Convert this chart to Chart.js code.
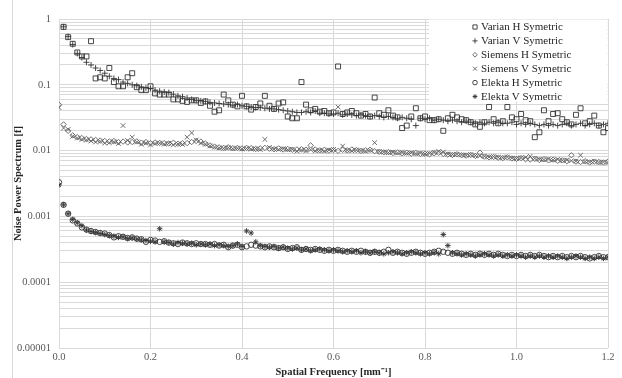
<!DOCTYPE html>
<html>
<head>
<meta charset="utf-8">
<script src="https://cdn.jsdelivr.net/npm/chart.js@4/dist/chart.umd.min.js"></script>
<style>
  html, body { margin: 0; padding: 0; background: #fff; }
  #wrap { position: relative; width: 622px; height: 378px; }
</style>
</head>
<body>
<div id="wrap"><canvas id="nps-chart" width="622" height="378"></canvas></div>
<script>
// spatial frequency grid, mm^-1 (0 .. 1.2)
const freqStep = 0.01;
const freqCount = 121;

const varianH = [null,
  0.76, 0.53, 0.42, 0.31, 0.27, 0.27, 0.46, 0.125, 0.13, 0.125,
  0.18, 0.11, 0.095, 0.095, 0.13, 0.15, 0.092, 0.083, 0.083, 0.095,
  0.074, 0.071, 0.071, 0.071, 0.06, 0.06, 0.057, 0.055, 0.058, 0.058,
  0.053, 0.056, 0.048, 0.039, 0.041, 0.071, 0.058, 0.05, 0.047, 0.068,
  0.047, 0.042, 0.046, 0.052, 0.068, 0.048, 0.043, 0.052, 0.054, 0.033,
  0.031, 0.031, 0.11, 0.05, 0.041, 0.043, 0.039, 0.04, 0.037, 0.038,
  0.19, 0.036, 0.038, 0.04, 0.037, 0.034, 0.036, 0.033, 0.064, 0.037,
  0.035, 0.041, 0.034, 0.032, 0.022, 0.024, 0.033, 0.044, 0.031, 0.033,
  0.029, 0.029, 0.03, 0.02, 0.031, 0.035, 0.032, 0.03, 0.029, 0.027,
  0.025, 0.023, 0.027, 0.046, 0.03, 0.026, 0.028, 0.046, 0.032, 0.03,
  0.036, 0.029, 0.028, 0.016, 0.019, 0.041, 0.028, 0.036, 0.037, 0.03,
  0.027, 0.025, 0.035, 0.044, 0.026, 0.028, 0.034, 0.024, 0.019, 0.022];

const varianV = [null,
  0.76, 0.54, 0.41, 0.3, 0.26, 0.22, 0.2, 0.18, 0.165, 0.15,
  0.135, 0.125, 0.12, 0.11, 0.105, 0.1, 0.097, 0.093, 0.09, 0.088,
  0.083, 0.08, 0.078, 0.076, 0.072, 0.068, 0.066, 0.063, 0.06, 0.058,
  0.057, 0.056, 0.054, 0.053, 0.052, 0.051, 0.05, 0.049, 0.05, 0.048,
  0.047, 0.046, 0.045, 0.045, 0.044, 0.043, 0.043, 0.042, 0.041, 0.04,
  0.039, 0.038, 0.038, 0.039, 0.038, 0.04, 0.037, 0.037, 0.036, 0.036,
  0.037, 0.035, 0.036, 0.035, 0.034, 0.035, 0.034, 0.033, 0.034, 0.033,
  0.032, 0.033, 0.032, 0.031, 0.032, 0.031, 0.03, 0.024, 0.031, 0.03,
  0.031, 0.029, 0.03, 0.029, 0.028, 0.029, 0.028, 0.027, 0.028, 0.027,
  0.026, 0.027, 0.026, 0.027, 0.026, 0.027, 0.026, 0.026, 0.027, 0.025,
  0.026, 0.025, 0.026, 0.025, 0.024, 0.025, 0.024, 0.025, 0.024, 0.025,
  0.026, 0.024, 0.025, 0.026, 0.024, 0.025, 0.026, 0.024, 0.025, 0.026];

const siemensH = [0.05,
  0.025, 0.02, 0.017, 0.016, 0.0155, 0.015, 0.0148, 0.0145, 0.0142, 0.014,
  0.0138, 0.014, 0.0135, 0.0137, 0.0133, 0.0135, 0.0138, 0.0132, 0.0135, 0.013,
  0.0133, 0.0131, 0.013, 0.0128, 0.0132, 0.0127, 0.0129, 0.013, 0.0135, 0.014,
  0.0137, 0.0128, 0.012, 0.0115, 0.0112, 0.011, 0.0112, 0.0109, 0.011, 0.0108,
  0.011, 0.0109, 0.0106, 0.0108, 0.011, 0.0107, 0.0105, 0.0108, 0.0104, 0.0106,
  0.0103, 0.0104, 0.0105, 0.0103, 0.012, 0.0104, 0.0101, 0.0103, 0.01, 0.0102,
  0.0099, 0.0103, 0.0101, 0.0104, 0.0102, 0.0099, 0.0101, 0.0103, 0.0098, 0.0096,
  0.0094, 0.0095, 0.0092, 0.0094, 0.0091, 0.0093, 0.009, 0.0092, 0.0089, 0.009,
  0.0088, 0.0091, 0.0093, 0.0089, 0.0087, 0.0086, 0.0088, 0.0085, 0.0084, 0.0086,
  0.0083, 0.0093, 0.0081, 0.0079, 0.008, 0.0078, 0.0077, 0.0079, 0.0076, 0.0075,
  0.0077, 0.0074, 0.0073, 0.0075, 0.0072, 0.0074, 0.0071, 0.0073, 0.007, 0.0071,
  0.0069, 0.0085, 0.0068, 0.0067, 0.0069, 0.0066, 0.0068, 0.0067, 0.0066, 0.0068];

const siemensV = [0.045,
  0.022, 0.021, 0.0165, 0.0155, 0.0148, 0.0145, 0.014, 0.0135, 0.0138, 0.013,
  0.0132, 0.0136, 0.0128, 0.024, 0.0142, 0.016, 0.0135, 0.0125, 0.013, 0.0122,
  0.0128, 0.013, 0.0125, 0.0129, 0.0122, 0.0126, 0.0124, 0.016, 0.0186, 0.0145,
  0.013, 0.0125, 0.0118, 0.0113, 0.011, 0.0108, 0.0111, 0.0107, 0.0109, 0.0106,
  0.0108, 0.0105, 0.0107, 0.0104, 0.0148, 0.0112, 0.0106, 0.0104, 0.0107, 0.0103,
  0.0105, 0.0098, 0.0102, 0.01, 0.0103, 0.0099, 0.0101, 0.0098, 0.0102, 0.0104,
  0.046, 0.0117, 0.0101, 0.0099, 0.0102, 0.01, 0.0098, 0.0101, 0.0132, 0.0097,
  0.0095, 0.0093, 0.0095, 0.0092, 0.0094, 0.0091, 0.0093, 0.009, 0.0092, 0.0089,
  0.0091, 0.0094, 0.0097, 0.0095, 0.0089, 0.0087, 0.0088, 0.0086, 0.0085, 0.0087,
  0.0084, 0.0083, 0.0082, 0.008, 0.0081, 0.0079, 0.0078, 0.008, 0.0077, 0.0076,
  0.0078, 0.0079, 0.0082, 0.0076, 0.0074, 0.0073, 0.0075, 0.0072, 0.0074, 0.0071,
  0.0072, 0.007, 0.0069, 0.0085, 0.0068, 0.0067, 0.0069, 0.0066, 0.0067, 0.0066];

const elektaH = [0.0033,
  0.0015, 0.0011, 0.00087, 0.00078, 0.00068, 0.00063, 0.0006, 0.00058, 0.00056, 0.00055,
  0.00052, 0.00048, 0.0005, 0.00049, 0.00047, 0.00048, 0.00046, 0.00045, 0.00041, 0.00044,
  0.00043, 0.00041, 0.00042, 0.0004, 0.00039, 0.00038, 0.0004, 0.00039, 0.00038, 0.00039,
  0.00038, 0.00038, 0.00037, 0.00038, 0.00036, 0.00037, 0.00034, 0.00036, 0.00037, 0.00034,
  0.00035, 0.00037, 0.00036, 0.00035, 0.00034, 0.00035, 0.00034, 0.00033, 0.00034, 0.00032,
  0.00033, 0.00034, 0.00031, 0.00032, 0.00031, 0.00032, 0.00031, 0.0003, 0.00031, 0.0003,
  0.00031, 0.0003, 0.00029, 0.0003, 0.00029, 0.0003, 0.00029, 0.00028, 0.00029, 0.00028,
  0.00029, 0.00031, 0.00028, 0.00029, 0.00028, 0.00027, 0.00028, 0.00029, 0.00028, 0.00027,
  0.00028, 0.00029, 0.0003, 0.00029, 0.00028, 0.00027, 0.00028, 0.00027, 0.00026, 0.00027,
  0.00026, 0.00027, 0.00026, 0.00027, 0.00026, 0.00027, 0.00026, 0.00025, 0.00026, 0.00025,
  0.00026, 0.00025, 0.00026, 0.00025, 0.00026, 0.00025, 0.00024, 0.00025, 0.00024, 0.00025,
  0.00024, 0.00025, 0.00024, 0.00025, 0.00024, 0.00023, 0.00024, 0.00025, 0.00024, 0.00024];

const elektaV = [0.003,
  0.0015, 0.0011, 0.0009, 0.0008, 0.00072, 0.00062, 0.00059, 0.00057, 0.00055, 0.00053,
  0.00051, 0.0005, 0.00048, 0.00049, 0.00046, 0.00047, 0.00045, 0.00044, 0.00043, 0.00042,
  0.00041, 0.00065, 0.00041, 0.0004, 0.00038, 0.0004, 0.00039, 0.00038, 0.00039, 0.00037,
  0.00038, 0.00037, 0.00038, 0.00036, 0.00037, 0.00036, 0.00035, 0.00036, 0.00038, 0.00035,
  0.0006, 0.00056, 0.00041, 0.00036, 0.00035, 0.00034, 0.00035, 0.00033, 0.00034, 0.00033,
  0.00032, 0.00033, 0.00031, 0.00032, 0.0003, 0.00031, 0.00032, 0.00031, 0.0003, 0.00031,
  0.0003, 0.00029, 0.0003, 0.00029, 0.0003, 0.00028, 0.00029, 0.00028, 0.00029, 0.00028,
  0.00027, 0.00028, 0.00029, 0.00028, 0.00027, 0.00028, 0.00029, 0.00028, 0.00027, 0.00028,
  0.00027, 0.00028, 0.00027, 0.00053, 0.00036, 0.00028, 0.00027, 0.00026, 0.00027, 0.00026,
  0.00025, 0.00026, 0.00027, 0.00026, 0.00025, 0.00026, 0.00025, 0.00026, 0.00025, 0.00026,
  0.00025, 0.00024, 0.00025, 0.00024, 0.00025, 0.00024, 0.00025, 0.00024, 0.00025, 0.00024,
  0.00023, 0.00024, 0.00025, 0.00024, 0.00023, 0.00024, 0.00023, 0.00024, 0.00023, 0.00024];

const seriesNames = ['Varian H Symetric', 'Varian V Symetric', 'Siemens H Symetric',
  'Siemens V Symetric', 'Elekta H Symetric', 'Elekta V Symetric'];
const seriesValues = [varianH, varianV, siemensH, siemensV, elektaH, elektaV];

// axis labels
const yDecadeLabels = ['0.00001', '0.0001', '0.001', '0.01', '0.1', '1'];
const xTickStep = 0.2;
const xTitle = 'Spatial Frequency [mm\u207B\u00B9]';
const yTitle = 'Noise Power Spectrum [f]';

// marker look per series
const markerStyles = [
  { pointStyle: 'rect', radius: 3.5, color: '#333333' },
  { pointStyle: 'cross', radius: 3, color: '#333333' },
  { pointStyle: 'rectRot', radius: 2.7, color: '#606060' },
  { pointStyle: 'crossRot', radius: 3.3, color: '#606060' },
  { pointStyle: 'circle', radius: 2.7, color: '#333333' },
  { pointStyle: 'star', radius: 2.8, color: '#333333' }
];

const serif = "'Liberation Serif', 'Times New Roman', serif";
const gridColor = '#d9d9d9';

// log gridlines at 1..9 x each decade, like the original
var yGridValues = [];
yDecadeLabels.forEach(function (lbl, d) {
  var base = Number(lbl);
  if (d === yDecadeLabels.length - 1) {
    yGridValues.push(base);
    return;
  }
  for (var m = 1; m <= 9; m++) {
    yGridValues.push(Number((base * m).toPrecision(3)));
  }
});

function toPoints(vals) {
  var pts = [];
  for (var i = 0; i < freqCount; i++) {
    if (vals[i] === null || vals[i] === undefined) continue;
    pts.push({ x: Number((i * freqStep).toFixed(2)), y: vals[i] });
  }
  return pts;
}

var datasets = seriesValues.map(function (vals, k) {
  var m = markerStyles[k];
  return {
    label: seriesNames[k],
    data: toPoints(vals),
    showLine: false,
    pointStyle: m.pointStyle,
    pointRadius: m.radius,
    pointHoverRadius: m.radius,
    pointBorderWidth: 0.9,
    borderColor: m.color,
    backgroundColor: 'rgba(0,0,0,0)',
    pointBackgroundColor: 'rgba(0,0,0,0)',
    pointBorderColor: m.color
  };
});

// legend box inside the plot, top right
var boxLegend = {
  id: 'boxLegend',
  afterDatasetsDraw: function (chart) {
    var ctx = chart.ctx;
    var area = chart.chartArea;
    var left = 429, top = area.top + 0.5, bottom = 102;
    ctx.save();
    ctx.fillStyle = '#fff';
    ctx.fillRect(left, top, area.right - left - 0.5, bottom - top);
    ctx.font = '11px ' + serif;
    ctx.textBaseline = 'middle';
    ctx.textAlign = 'left';
    seriesNames.forEach(function (name, k) {
      var m = markerStyles[k];
      var y = 27 + k * 13.9;
      ctx.strokeStyle = m.color;
      ctx.fillStyle = 'rgba(0,0,0,0)';
      ctx.lineWidth = 0.9;
      Chart.helpers.drawPoint(ctx, {
        pointStyle: m.pointStyle,
        radius: m.radius * 0.85,
        borderWidth: 0.9,
        rotation: 0
      }, 475, y);
      ctx.fillStyle = '#262626';
      ctx.fillText(name, 481, y + 0.5);
    });
    ctx.restore();
  }
};

// thin frame line at the left edge of the image
var frameLine = {
  id: 'frameLine',
  beforeDraw: function (chart) {
    var ctx = chart.ctx;
    ctx.save();
    ctx.strokeStyle = gridColor;
    ctx.lineWidth = 1;
    ctx.beginPath();
    ctx.moveTo(12.5, 0);
    ctx.lineTo(12.5, chart.height);
    ctx.stroke();
    ctx.restore();
  }
};

new Chart(document.getElementById('nps-chart'), {
  type: 'scatter',
  data: { datasets: datasets },
  plugins: [frameLine, boxLegend],
  options: {
    responsive: false,
    animation: false,
    devicePixelRatio: 1,
    layout: { padding: { top: 19, right: 14, bottom: 0, left: 0 } },
    plugins: {
      legend: { display: false },
      tooltip: { enabled: false }
    },
    scales: {
      x: {
        type: 'linear',
        min: 0,
        max: 1.2,
        afterFit: function (scale) { scale.height = 30; },
        grid: { color: gridColor, lineWidth: 1, drawTicks: false },
        border: { display: false },
        ticks: {
          stepSize: xTickStep,
          padding: 3,
          color: '#595959',
          font: { family: serif, size: 10.5 },
          callback: function (v) { return Number(v).toFixed(1); }
        },
        title: {
          display: true,
          text: xTitle,
          color: '#262626',
          font: { family: serif, size: 10.5, weight: 'bold', lineHeight: 1 },
          padding: { top: 0, bottom: 0 }
        }
      },
      y: {
        type: 'logarithmic',
        min: 0.00001,
        max: 1,
        afterFit: function (scale) { scale.width = 59; },
        afterBuildTicks: function (scale) {
          scale.ticks = yGridValues.map(function (v) { return { value: v }; });
        },
        grid: { color: gridColor, lineWidth: 1, drawTicks: false },
        border: { display: false },
        ticks: {
          autoSkip: false,
          padding: 8,
          color: '#595959',
          font: { family: serif, size: 10.5 },
          callback: function (v) {
            var idx = yDecadeLabels.findIndex(function (l) { return Math.abs(Number(l) - v) < v * 1e-6; });
            return idx >= 0 ? yDecadeLabels[idx] : '';
          }
        },
        title: {
          display: true,
          text: yTitle,
          color: '#262626',
          font: { family: serif, size: 10.5, weight: 'bold', lineHeight: 1.2 },
          padding: { top: 12, bottom: 0 }
        }
      }
    }
  }
});
</script>
</body>
</html>
